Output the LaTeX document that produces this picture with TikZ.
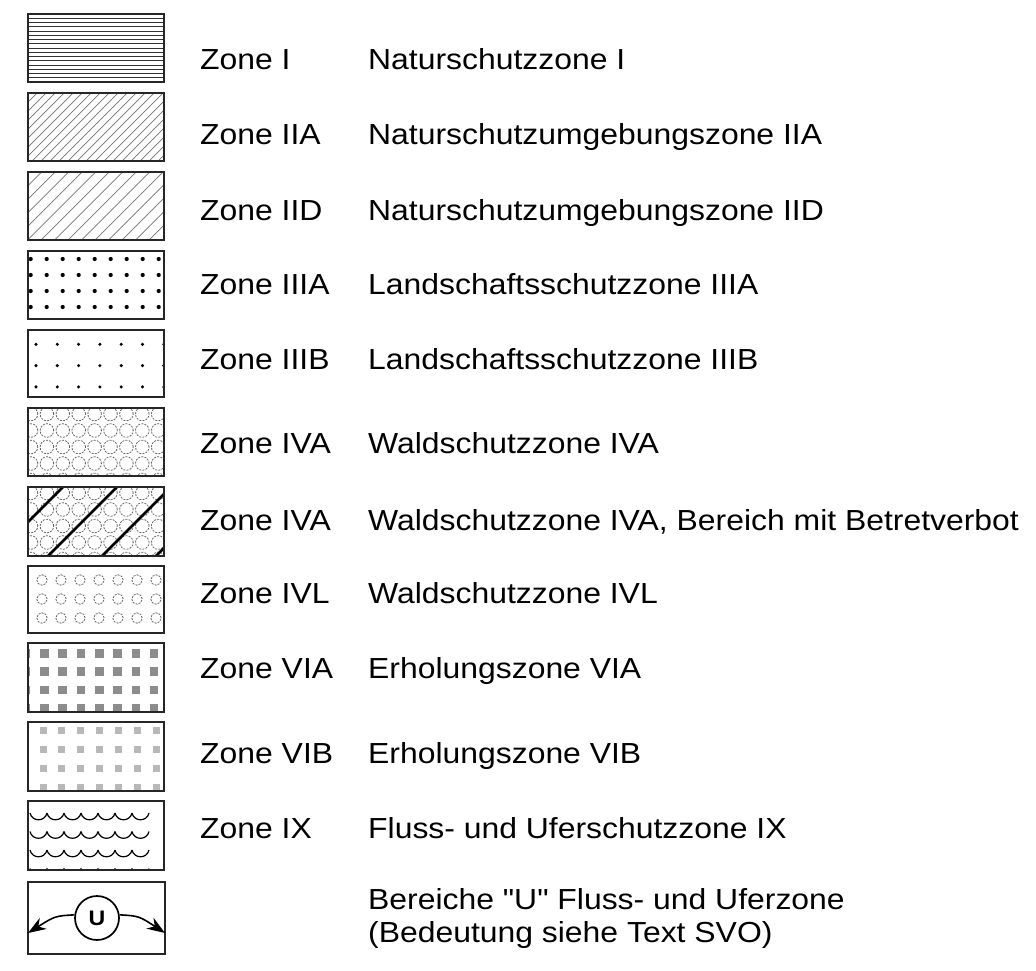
\documentclass[tikz,border=0pt]{standalone}
\usepackage{fontspec}
\setmainfont{Liberation Sans}[FakeStretch=1.1,Ligatures=TeXOff]
\usetikzlibrary{arrows.meta}

\tikzset{
  swatch/.style={draw=black!85,line width=1.8pt},
  hatch/.style={draw=black!55,line width=0.7pt},
  ring/.style={draw=black!60,line width=0.8pt,dash pattern=on 2pt off 1.2pt},
  dot/.style={fill=black},
  sqdark/.style={fill=black!45},
  sqlight/.style={fill=black!28},
  wave/.style={draw=black,line width=1.2pt},
  zonelbl/.style={anchor=base west,inner sep=0pt,font=\fontsize{29}{33}\selectfont},
  desclbl/.style={zonelbl},
  uarrow/.style={line width=1.6pt,-{Stealth[length=18pt,width=13pt]}}
}

\begin{document}
\begin{tikzpicture}[x=1pt,y=-1pt]
  \useasboundingbox (0,0) rectangle (1036,970);

  % Zone I
  \begin{scope}
    \clip (28,14) rectangle (164,82);
    \foreach \k in {1,...,15} \draw[hatch,draw=black!80] (28,14+\k*4.25) -- (164,14+\k*4.25);
  \end{scope}
  \draw[swatch,line width=2.2pt] (28,14) rectangle (164,82);

  % Zone IIA
  \begin{scope}
    \clip (28,93) rectangle (164,161);
    \foreach \s in {0,...,24} \draw[hatch] (-40+\s*9,161) -- ++(68,-68);
  \end{scope}
  \draw[swatch] (28,93) rectangle (164,161);

  % Zone IID
  \begin{scope}
    \clip (28,172) rectangle (164,240);
    \foreach \s in {0,...,16} \draw[hatch] (-40+\s*13.5,240) -- ++(68,-68);
  \end{scope}
  \draw[swatch] (28,172) rectangle (164,240);

  % Zone IIIA
  \begin{scope}
    \clip (28,251) rectangle (164,319);
    \foreach \i in {0,...,8} \foreach \j in {0,...,3}
      \fill[dot] (30.7+16*\i,259+16*\j) circle (2.1pt);
  \end{scope}
  \draw[swatch] (28,251) rectangle (164,319);

  % Zone IIIB
  \begin{scope}
    \clip (28,330) rectangle (164,397);
    \foreach \i in {0,...,6} \foreach \j in {0,...,2}
      \fill[dot] (36+21.3*\i,344.3+21.3*\j) circle (1.7pt);
  \end{scope}
  \draw[swatch] (28,330) rectangle (164,397);

  % Zone IVA
  \begin{scope}
    \clip (28,408) rectangle (164,476);
    \foreach \i in {-1,...,8} \foreach \j in {0,...,4}
      \draw[ring] (31+15.9*\i,414+16.5*\j) circle (6.8pt);
  \end{scope}
  \draw[swatch] (28,408) rectangle (164,476);

  % Zone IVA, Betretverbot
  \begin{scope}
    \clip (28,487) rectangle (164,556);
    \foreach \i in {-1,...,8} \foreach \j in {0,...,4}
      \draw[ring] (31+15.9*\i,493+16.5*\j) circle (6.8pt);
    \foreach \s in {0,...,3} \draw[line width=2.6pt] (-6+\s*54,556) -- ++(72,-72);
  \end{scope}
  \draw[swatch,line width=2.4pt] (28,487) rectangle (164,556);

  % Zone IVL
  \begin{scope}
    \clip (28,566) rectangle (164,633);
    \foreach \i in {-1,...,6} \foreach \j in {-1,...,2}
      \draw[ring] (42+19*\i,580+19*\j) circle (5.2pt);
  \end{scope}
  \draw[swatch] (28,566) rectangle (164,633);

  % Zone VIA
  \begin{scope}
    \clip (28,643) rectangle (164,712);
    \foreach \i in {-1,...,6} \foreach \j in {0,...,3}
      \fill[sqdark] (40+18.3*\i,649+18.3*\j) rectangle ++(8.6,8.6);
  \end{scope}
  \draw[swatch] (28,643) rectangle (164,712);

  % Zone VIB
  \begin{scope}
    \clip (28,722) rectangle (164,791);
    \foreach \i in {0,...,6} \foreach \j in {0,...,3}
      \fill[sqlight] (39.5+18.9*\i,726.5+19*\j) rectangle ++(7,7);
  \end{scope}
  \draw[swatch] (28,722) rectangle (164,791);

  % Zone IX
  \begin{scope}
    \clip (28,801) rectangle (164,870);
    \foreach \i in {0,...,6} \foreach \j in {0,...,3}
      \draw[wave] (30+17*\i,813+18.5*\j) .. controls +(2,9) and +(-2,9) .. +(17,0);
  \end{scope}
  \draw[swatch] (28,801) rectangle (164,870);

  % Bereiche U
  \draw[swatch] (28,882) rectangle (165,954);
  \node[draw,circle,line width=1.7pt,minimum size=44pt,inner sep=0pt,
        font=\bfseries\fontsize{21}{21}\selectfont] (u) at (97,918) {U};
  \coordinate (ul) at (28,933);
  \coordinate (ur) at (165,933);
  \draw[uarrow] (u.172) .. controls (55,916) .. (ul);
  \draw[uarrow] (u.8) .. controls (139,916) .. (ur);

  % Beschriftung
  \node[zonelbl] (z1) at (200,69) {Zone I};
  \node[zonelbl] (z2) at (200,144) {Zone IIA};
  \node[zonelbl] (z3) at (200,220) {Zone IID};
  \node[zonelbl] (z4) at (200,294) {Zone IIIA};
  \node[zonelbl] (z5) at (200,369) {Zone IIIB};
  \node[zonelbl] (z6) at (200,453) {Zone IVA};
  \node[zonelbl] (z7) at (200,530) {Zone IVA};
  \node[zonelbl] (z8) at (200,603) {Zone IVL};
  \node[zonelbl] (z9) at (200,678) {Zone VIA};
  \node[zonelbl] (z10) at (200,763) {Zone VIB};
  \node[zonelbl] (z11) at (200,838) {Zone IX};

  \node[desclbl] (d1) at (368,69) {Naturschutzzone I};
  \node[desclbl] (d2) at (368,144) {Naturschutzumgebungszone IIA};
  \node[desclbl] (d3) at (368,220) {Naturschutzumgebungszone IID};
  \node[desclbl] (d4) at (368,294) {Landschaftsschutzzone IIIA};
  \node[desclbl] (d5) at (368,369) {Landschaftsschutzzone IIIB};
  \node[desclbl] (d6) at (368,453) {Waldschutzzone IVA};
  \node[desclbl] (d7) at (368,530) {Waldschutzzone IVA, Bereich mit Betretverbot};
  \node[desclbl] (d8) at (368,603) {Waldschutzzone IVL};
  \node[desclbl] (d9) at (368,678) {Erholungszone VIA};
  \node[desclbl] (d10) at (368,763) {Erholungszone VIB};
  \node[desclbl] (d11) at (368,838) {Fluss- und Uferschutzzone IX};
  \node[desclbl] (d12) at (368,909) {Bereiche "U" Fluss- und Uferzone};
  \node[desclbl] (d13) at (368,942) {(Bedeutung siehe Text SVO)};
\end{tikzpicture}
\end{document}
